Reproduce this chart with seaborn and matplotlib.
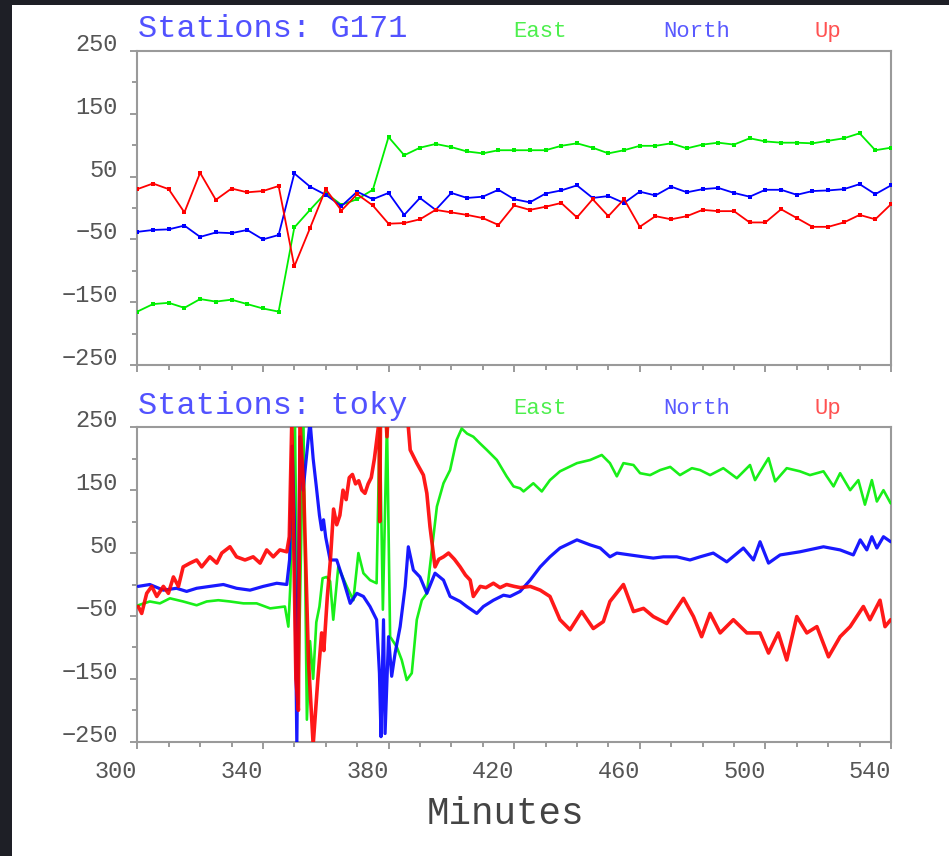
import matplotlib
matplotlib.use("Agg")
import matplotlib.pyplot as plt
from matplotlib.patches import Rectangle
from matplotlib.ticker import FixedLocator
import pandas as pd
import seaborn as sns

sns.set_style("white")
plt.rcParams["font.family"] = ["Liberation Mono", "DejaVu Sans"]
plt.rcParams["axes.unicode_minus"] = True

# ---------------- station G171 (5-minute solutions) ----------------
g171_minutes = list(range(300, 541, 5))
g171_east = [-165, -153, -151, -159, -145, -149, -146, -153, -160, -165,
             -31, -3, 24, 5, 14, 29, 113, 84, 96, 102, 97, 90,
             87, 92, 92, 92, 92, 99, 103, 96, 87, 92, 99, 99, 103, 95,
             101, 104, 101, 111, 106, 104, 104, 103, 107, 111, 119, 92, 96]
g171_north = [-38, -35, -34, -28, -46, -39, -40, -35, -50, -43,
              55, 34, 21, 3, 26, 14, 24, -11, 16, -3, 24, 16,
              18, 29, 14, 9, 23, 28, 36, 16, 19, 8, 26, 20, 34, 25,
              30, 32, 24, 18, 29, 29, 21, 27, 28, 30, 38, 22, 36]
g171_up = [30, 39, 30, -7, 56, 13, 31, 25, 27, 35,
           -93, -32, 30, -4, 22, 4, -25, -24, -18, -3, -7, -11,
           -16, -27, 4, -3, 2, 8, -15, 14, -13, 14, -30, -13, -18, -13,
           -3, -5, -5, -23, -23, -2, -16, -30, -30, -23, -11, -18, 6]

# ---------------- station toky (high-rate solutions, minute, value) ----------------
toky_east = [
    (300.3, -33), (304, -27), (307.2, -30), (310.4, -22), (314.6, -27), (318.9, -33),
    (322.1, -27), (325.8, -25), (329.5, -27), (333.8, -30), (338, -30), (342.3, -38),
    (347, -35), (348.1, -67), (348.7, -5), (350.2, 260), (351.2, -190), (352.9, 260),
    (354.0, -215), (355.0, -90), (356.0, -150), (357.0, -60), (358.0, -35), (359.0, 10),
    (360.3, 12), (361.4, 5), (362.4, -56), (364, 28), (366.7, -3), (368.8, -25),
    (370.4, 50), (372, 18), (374.1, 7), (376.2, 2), (377.2, 260), (378.2, -40),
    (379.5, 260), (380.5, -83), (382.6, -99), (384.2, -120), (385.8, -152), (387.4, -141),
    (389, -56), (390.6, -25), (392.2, -14), (393.8, 55), (395.4, 124), (397.5, 161),
    (399.6, 182), (401.7, 230), (403.3, 248), (405, 240), (407, 235), (409, 225),
    (411.3, 214), (414.5, 198), (417.6, 172), (419.8, 156), (421.9, 153), (423, 148),
    (426.1, 161), (428.8, 148), (431.4, 166), (434.6, 180), (440, 193), (444.2, 198),
    (447.9, 206), (450.5, 193), (452.7, 172), (454.8, 193), (458, 190), (460.1, 177),
    (463.3, 174), (466.5, 182), (469.7, 187), (472.8, 174), (476.6, 185), (479.2, 182),
    (482.4, 174), (486.6, 185), (490.9, 169), (495.1, 190), (496.7, 166), (501, 201),
    (503.1, 164), (506.8, 185), (511, 180), (514.2, 174), (518.5, 180), (521.7, 156),
    (523.8, 177), (527, 150), (529.6, 166), (531.7, 127), (533.9, 166), (535.5, 132),
    (537.6, 150), (539.9, 129),
]
toky_north = [
    (300.3, -3), (304, 0), (308.3, -9), (312.5, -6), (315.7, -11), (318.9, -6),
    (323.1, -3), (327.4, 0), (331.6, -6), (335.9, -9), (340.1, -3), (344.4, 2),
    (347.6, 0), (348.5, 40), (349.3, 220), (350.0, 100), (350.8, -255), (351.8, 235),
    (352.8, 150), (353.8, 200), (355.0, 260), (356.0, 200), (357.0, 156), (358.0, 110),
    (358.7, 87), (359.3, 103), (360.0, 75), (361.4, 39), (363.5, 39), (365.6, 7),
    (367.8, -30), (369.9, -14), (372, -19), (374.1, -35), (376.2, -56), (377.1, -141),
    (377.6, -242), (378.4, -56), (378.9, -237), (380, -83), (381, -146), (382.1, -109),
    (383.7, -67), (385.3, -3), (386.3, 60), (387.9, 23), (390, 12), (392.2, -14),
    (394.8, 18), (397.5, 7), (399.6, -19), (402.8, -27), (404.9, -35), (408.1, -46),
    (410.2, -35), (413.4, -25), (416.6, -17), (418.7, -19), (421.9, -11), (425.1, 7),
    (428.3, 28), (431.4, 44), (434.6, 58), (440, 71), (444.2, 63), (447.4, 58),
    (450.5, 44), (452.7, 50), (456.9, 47), (461.2, 44), (464.3, 42), (467.5, 44),
    (471.8, 44), (476, 39), (479.2, 44), (483.4, 50), (487.7, 36), (493, 58),
    (496.2, 39), (498.3, 68), (501, 34), (504.7, 47), (511, 52), (518.5, 60),
    (523.8, 55), (528, 47), (530.2, 71), (532.3, 55), (533.9, 76), (535.5, 58),
    (537.6, 76), (539.9, 68),
]
toky_up = [
    (300.3, -35), (301.4, -46), (303, -14), (304.6, -3), (306.2, -19), (308.3, -3),
    (309.9, -14), (311.5, 12), (313.1, -3), (314.6, 28), (316.8, 34), (318.9, 39),
    (320.5, 28), (323.1, 44), (325.3, 34), (326.9, 50), (329.5, 60), (331.6, 44),
    (334.3, 39), (336.9, 44), (339.1, 34), (341.2, 55), (343.3, 44), (345.4, 55),
    (347.6, 52), (348.4, 76), (349.2, 260), (350.5, -150), (351.3, -200), (351.8, 260),
    (353.0, 150), (354.5, -120), (356.0, -255), (357.5, -150), (358.7, -77), (359.4, -105),
    (360.5, -20), (361.5, 40), (362.5, 120), (363.5, 95), (364.5, 110), (365.5, 150),
    (366.5, 135), (367.5, 170), (368.5, 175), (369.5, 160), (370.5, 165), (371.5, 150),
    (372.5, 145), (373.5, 160), (374.5, 170), (375.5, 200), (376.5, 240), (377.0, 260),
    (377.2, 100), (377.5, 300), (378.8, 300), (379.5, 235), (380.2, 300), (385.5, 300),
    (386.9, 214), (389, 193), (391.1, 174), (392.2, 145), (393.2, 92), (394.8, 28),
    (396, 40), (397.5, 44), (399.1, 50), (401, 40), (402.8, 28), (404.5, 15),
    (406, 7), (407, -19), (409.2, -3), (411, -5), (413.4, 2), (415.5, -5),
    (417.6, 0), (420, -3), (422, -5), (425.1, -3), (428.3, -9), (431.4, -19),
    (434.6, -56), (437.8, -72), (441.5, -43), (445.2, -70), (448.4, -59), (450.5, -27),
    (454.8, 0), (458, -43), (461.2, -38), (464.3, -51), (468.6, -62), (470.7, -46),
    (473.9, -22), (477.1, -51), (479.7, -83), (482.4, -46), (485.6, -77), (489.8, -56),
    (494.1, -77), (498.3, -77), (501, -109), (504.1, -77), (506.8, -120), (510, -51),
    (513.2, -77), (516.4, -67), (520.1, -115), (523.8, -83), (527, -67), (531.2, -35),
    (533.3, -56), (536.5, -25), (538.1, -67), (539.9, -56),
]

component_names = ["East", "North", "Up"]
line_colors = {"East": "#00ee00", "North": "#0000ff", "Up": "#ff0000"}
text_colors = {"East": "#4def4d", "North": "#5a5aff", "Up": "#ff5252"}
y_major = [-250, -150, -50, 50, 150, 250]
y_minor = [-200, -100, 0, 100, 200]
x_major = list(range(300, 541, 40))
x_minor = list(range(300, 541, 10))

W, H = 949, 856
fig = plt.figure(figsize=(W / 100, H / 100), dpi=100, facecolor="#1e1f26")


def fx(px):
    return px / W


def fy(py):
    return 1 - py / H


# white canvas inside the dark frame
fig.patches.append(Rectangle((fx(12.3), 0), 1 - fx(12.3), fy(5.3),
                             transform=fig.transFigure, facecolor="white",
                             edgecolor="none", zorder=-10))

left, right = 137.3, 891.0
ax_top = fig.add_axes([fx(left), fy(365), fx(right) - fx(left), fy(51) - fy(365)])
ax_bot = fig.add_axes([fx(left), fy(741.7), fx(right) - fx(left), fy(427.3) - fy(741.7)])

# upper panel: lines with small square markers
g171 = pd.DataFrame({"minute": g171_minutes, "East": g171_east,
                     "North": g171_north, "Up": g171_up})
for z, comp in enumerate(component_names):
    sns.lineplot(data=g171, x="minute", y=comp, ax=ax_top, color=line_colors[comp],
                 linewidth=1.3, marker="s", markersize=3.2, markeredgewidth=0,
                 estimator=None, zorder=3 + z)

# lower panel: dense high-rate traces
toky = {"East": toky_east, "North": toky_north, "Up": toky_up}
widths = {"East": 1.9, "North": 2.3, "Up": 2.6}
for z, comp in enumerate(component_names):
    df = pd.DataFrame(toky[comp], columns=["minute", "value"])
    sns.lineplot(data=df, x="minute", y="value", ax=ax_bot, color=line_colors[comp],
                 linewidth=widths[comp], alpha=0.9, estimator=None, sort=False,
                 zorder=3 + z)

for ax in (ax_top, ax_bot):
    ax.set_xlim(300, 540)
    ax.set_ylim(-250, 250)
    ax.set_xlabel("")
    ax.set_ylabel("")
    ax.set_facecolor("white")
    ax.xaxis.set_major_locator(FixedLocator(x_major))
    ax.xaxis.set_minor_locator(FixedLocator(x_minor))
    ax.yaxis.set_major_locator(FixedLocator(y_major))
    ax.yaxis.set_minor_locator(FixedLocator(y_minor))
    for sp in ax.spines.values():
        sp.set_visible(True)
        sp.set_color("#9a9a9a")
        sp.set_linewidth(1.5)
    ax.tick_params(axis="both", which="both", direction="out", color="#8a8a8a",
                   width=1.2, bottom=True, left=True, top=False, right=False)
    ax.tick_params(axis="both", which="major", length=5)
    ax.tick_params(axis="both", which="minor", length=3.5)
    ax.tick_params(axis="y", which="major", labelsize=17, labelcolor="#555555", pad=9)
    ax.tick_params(axis="x", which="major", labelsize=17, labelcolor="#555555", pad=8)
    ax.grid(False)
    for lab in ax.get_yticklabels():
        lab.set_verticalalignment("baseline")
    for lab in ax.get_xticklabels():
        lab.set_horizontalalignment("right")

ax_top.tick_params(axis="x", labelbottom=False)

# panel headers and component keys
for station, base in (("G171", 36.7), ("toky", 414.0)):
    fig.text(fx(137.5), fy(base), f"Stations: {station}", color="#5252ff",
             fontsize=23, ha="left", va="baseline")
    for comp, xpos in zip(component_names, (513, 663, 815)):
        fig.text(fx(xpos), fy(base), comp, color=text_colors[comp],
                 fontsize=16, ha="left", va="baseline")

fig.text(fx(505), fy(824), "Minutes", color="#444444", fontsize=27,
         ha="center", va="baseline")

fig.savefig("out.png", dpi=100, facecolor=fig.get_facecolor())
